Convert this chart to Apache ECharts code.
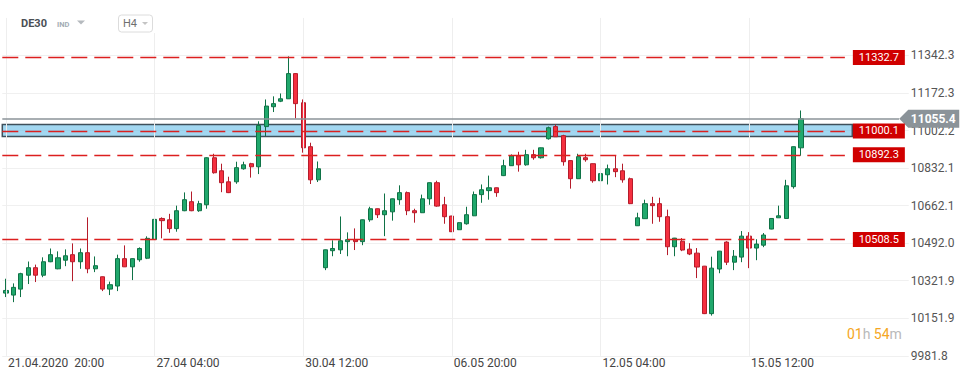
<!DOCTYPE html>
<html><head><meta charset="utf-8">
<script src="https://cdn.jsdelivr.net/npm/echarts@6/dist/echarts.min.js"></script>
<style>html,body{margin:0;padding:0;background:#fff}#c{width:970px;height:381px}</style>
</head><body><div id="c"></div>
<script>
// ---- data (O, C, L, H per H4 candle) ----
const opens = [10266,10257,10284,10347,10381,10347,10408,10376,10415,10440,10408,10449,10376,10340,10284,10298,10422,10385,10417,10424,
10509,10604,10598,10558,10639,10680,10639,10666,10879,10820,10770,10770,10829,10852,10838,11020,11110,11135,11146,11260,
11128,10929,10779,10381,10458,10462,10499,10508,10499,10598,10648,10621,10634,10689,10721,10639,10630,10693,10766,10666,
10615,10553,10580,10616,10712,10730,10743,10798,10843,10888,10847,10893,10879,10965,11020,10979,10866,10784,10879,10852,
10775,10802,10829,10820,10784,10571,10603,10671,10671,10612,10476,10501,10465,10447,10388,10173,10375,10497,10406,10429,
10524,10470,10483,10556,10607,10604,10748,10924];
const closes = [10278,10292,10354,10381,10347,10408,10440,10426,10435,10408,10449,10376,10390,10284,10304,10422,10385,10422,10468,10514,
10600,10594,10558,10639,10689,10639,10671,10879,10811,10766,10721,10834,10847,10838,11025,11113,11124,11146,11260,11124,
10924,10779,10829,10462,10468,10503,10508,10499,10598,10648,10621,10639,10693,10721,10639,10630,10693,10766,10660,10612,
10544,10585,10621,10712,10734,10743,10721,10843,10888,10847,10893,10879,10924,11015,10974,10861,10784,10884,10870,10775,
10807,10829,10816,10779,10671,10607,10671,10662,10612,10476,10515,10461,10443,10384,10173,10379,10456,10406,10433,10524,
10470,10488,10529,10604,10616,10752,10929,11055.4];
const lows = [10248,10225,10248,10307,10316,10338,10406,10374,10388,10320,10376,10356,10361,10275,10257,10275,10384,10325,10408,10420,
10507,10514,10539,10544,10637,10637,10634,10648,10807,10723,10719,10761,10825,10789,10805,10977,11086,11131,11145,11057,
10902,10760,10769,10370,10433,10443,10433,10461,10483,10589,10606,10524,10594,10666,10619,10585,10629,10666,10657,10580,
10543,10552,10576,10615,10675,10689,10702,10796,10842,10816,10843,10870,10875,10961,10973,10843,10739,10783,10861,10766,
10750,10758,10791,10766,10669,10570,10602,10580,10589,10438,10433,10456,10438,10334,10171,10164,10356,10393,10370,10406,
10379,10415,10474,10555,10606,10603,10739,10888];
const highs = [10331,10310,10358,10409,10395,10428,10468,10455,10464,10491,10468,10609,10432,10341,10318,10440,10482,10423,10473,10523,
10631,10609,10625,10662,10722,10726,10684,10881,10897,10852,10793,10861,10861,10856,11044,11143,11157,11170,11338,11262,
11143,10947,10862,10463,10505,10613,10541,10559,10599,10657,10649,10717,10694,10754,10726,10648,10712,10767,10775,10702,
10616,10586,10657,10726,10758,10798,10744,10870,10894,10906,10915,10915,10925,11020,11029,10983,10867,10897,10897,10853,
10834,10848,10888,10852,10789,10630,10689,10702,10698,10644,10516,10515,10492,10470,10389,10431,10457,10501,10461,10547,
10542,10510,10538,10605,10662,10779,10930,11093];
const slotCount = 122;
const tickIndex = [0, 20, 40, 60, 80, 100];
const tickLabels = ['21.04.2020  20:00', '27.04 04:00', '30.04 12:00', '06.05 20:00', '12.05 04:00', '15.05 12:00'];
const yMin = 9981.8, yStep = 170.0625, yMax = 11512.3;
const yTickLabels = ['9981.8','10151.9','10321.9','10492.0','10662.1','10832.1','11002.2','11172.3','11342.3'];
const levels = [11332.7, 11000.1, 10892.3, 10508.5];
const zone = [10975, 11030];
const lastPrice = 11055.4;

const categories = [];
for (let i = 0; i < slotCount; i++) categories.push(String(i));
const ohlc = opens.map((o, i) => [o, closes[i], lows[i], highs[i]]);

const chart = echarts.init(document.getElementById('c'), null, {renderer: 'svg'});
const F = 'Roboto, sans-serif';
chart.setOption({
  animation: false,
  backgroundColor: '#fff',
  grid: {left: 2.3, right: 61.24, top: 17.9, bottom: 25.15, containLabel: false},
  xAxis: [{
    type: 'category', data: categories, boundaryGap: true,
    axisLine: {show: false}, axisTick: {show: false}, splitLine: {show: false},
    axisLabel: {
      interval: (i) => tickIndex.includes(i),
      formatter: (v, i) => { const k = tickIndex.indexOf(Number(v)); return k >= 0 ? tickLabels[k] : ''; },
      align: 'left', padding: [0, 0, 0, 2], margin: 1, color: '#444', fontSize: 12, fontFamily: F
    }
  }, {
    type: 'value', min: -0.5, max: slotCount - 0.5, show: false
  }],
  yAxis: {
    type: 'value', position: 'right', min: yMin, max: yMax, interval: yStep, scale: true,
    axisLine: {show: false}, axisTick: {show: false},
    splitLine: {show: true, showMaxLine: false, lineStyle: {color: '#f0f0f0', width: 1}},
    axisLabel: {
      margin: 2, color: '#555', fontSize: 12, fontFamily: F, showMaxLabel: false,
      formatter: (v) => { const k = Math.round((v - yMin) / yStep); return (k >= 0 && k < yTickLabels.length && Math.abs(v - (yMin + k * yStep)) < 1) ? yTickLabels[k] : ''; }
    }
  },
  series: [
    {
      type: 'line', xAxisIndex: 1, data: [], z: 1, silent: true,
      markLine: {symbol: 'none', silent: true, label: {show: false}, animation: false,
        lineStyle: {color: '#eeeeee', width: 1, type: 'solid'},
        data: tickIndex.map(i => ({xAxis: i}))}
    },
    {
      type: 'candlestick', xAxisIndex: 0, data: ohlc, barWidth: 4.6, z: 2,
      itemStyle: {color: '#20a86c', color0: '#f5303f', borderColor: '#0f7246', borderColor0: '#b51c2b', borderWidth: 1}
    },
    {
      type: 'line', xAxisIndex: 1, data: [], z: 3, clip: false, silent: true,
      markLine: {symbol: 'none', silent: true, animation: false,
        lineStyle: {color: '#dc1f1f', width: 1.3, type: [16, 7]},
        label: {show: true, position: 'end', distance: 8, formatter: (p) => p.name,
          color: '#fff', backgroundColor: '#d00000', padding: [2, 6, 2, 6], fontSize: 11, lineHeight: 11, fontFamily: F},
        data: levels.map(v => [{name: v.toFixed(1), coord: [-0.5, v]}, {coord: [112.9, v]}])}
    },
    {
      type: 'line', xAxisIndex: 1, data: [], z: 4, clip: false, silent: true,
      markArea: {silent: true, animation: false,
        itemStyle: {color: 'rgba(105,190,232,0.62)', borderColor: '#3f505b', borderWidth: 1.5},
        data: [[{coord: [-0.5, zone[1]]}, {coord: [113.9, zone[0]]}]]}
    },
    {
      type: 'line', xAxisIndex: 1, data: [], z: 5, clip: false, silent: true,
      markLine: {symbol: 'none', silent: true, animation: false, label: {show: false},
        lineStyle: {color: '#8b9399', width: 1.5, type: 'solid'},
        data: [[{coord: [-0.5, lastPrice]}, {coord: [120.2, lastPrice]}]]},
      markPoint: {silent: true, animation: false,
        data: [{coord: [slotCount - 0.5, lastPrice], value: lastPrice}],
        symbol: 'path://M0,9 L9,0 L60,0 L60,18 L9,18 Z', symbolKeepAspect: false,
        symbolSize: [60, 18], symbolOffset: [20.5, 0],
        itemStyle: {color: '#8b9399'},
        label: {show: true, position: 'inside', offset: [4, 0], formatter: () => lastPrice.toFixed(1),
          color: '#fff', fontWeight: 'bold', fontSize: 12, lineHeight: 12, fontFamily: F}}
    }
  ],
  graphic: [
    {type: 'rect', left: 108, top: 8, shape: {width: 52, height: 25}, style: {fill: '#fff'}, z: 50},
    {type: 'text', left: 21, top: 18, style: {text: 'DE30', fill: '#4a4f55', font: 'bold 11px Roboto, sans-serif'}, z: 60},
    {type: 'text', left: 57, top: 20.5, style: {text: 'IND', fill: '#a3acb4', font: 'bold 7.5px Roboto, sans-serif'}, z: 60},
    {type: 'polygon', shape: {points: [[77, 20.5], [85, 20.5], [81, 24.5]]}, style: {fill: '#b5babe'}, z: 60},
    {type: 'rect', shape: {x: 118.5, y: 15, width: 34, height: 17, r: 3}, style: {fill: '#fff', stroke: '#dcdcdc', lineWidth: 1}, z: 60},
    {type: 'text', left: 123, top: 17.5, style: {text: 'H4', fill: '#6f6f6f', font: '11px Roboto, sans-serif'}, z: 61},
    {type: 'polygon', shape: {points: [[142, 22], [148, 22], [145, 25]]}, style: {fill: '#c4c4c4'}, z: 61},
    {type: 'text', left: 847, top: 327, style: {
      text: '{o|01}{g|h} {o|54}{g|m}',
      rich: {o: {fill: '#f5a623', font: '14px Roboto, sans-serif'}, g: {fill: '#b9b9b9', font: '14px Roboto, sans-serif'}}
    }, z: 60}
  ]
});
</script>
</body></html>
